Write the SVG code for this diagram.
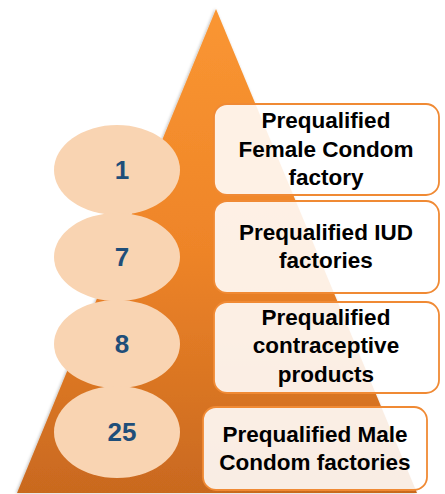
<svg xmlns="http://www.w3.org/2000/svg" width="445" height="494" viewBox="0 0 445 494">
<defs>
<linearGradient id="tri" x1="0" y1="0" x2="0" y2="1">
<stop offset="0" stop-color="#FA9632"/>
<stop offset="0.5" stop-color="#EE8428"/>
<stop offset="1" stop-color="#C9691F"/>
</linearGradient>
<filter id="sh" x="-10%" y="-10%" width="120%" height="120%">
<feGaussianBlur in="SourceAlpha" stdDeviation="1.5"/>
<feOffset dx="-1" dy="0" result="b"/>
<feFlood flood-color="#000" flood-opacity="0.25"/>
<feComposite in2="b" operator="in"/>
<feMerge><feMergeNode/><feMergeNode in="SourceGraphic"/></feMerge>
</filter>
</defs>
<style>
.ell{fill:#F9D4B2}
.num{font-family:"Liberation Sans",Arial,sans-serif;font-weight:bold;font-size:26px;fill:#1F4E79;text-anchor:middle}
.box{fill:#FFFFFF;fill-opacity:0.88;stroke:#F08A34;stroke-width:1.8}
.lbl{font-family:"Liberation Sans",Arial,sans-serif;font-weight:bold;font-size:22.5px;fill:#000;text-anchor:middle}
</style>
<g id="pyramid">
<polygon points="216,9 417,493 17,493" fill="url(#tri)" filter="url(#sh)"/>
</g>
<g id="connectors"></g>
<g id="n1">
<ellipse class="ell" cx="117" cy="170" rx="63" ry="45"/>
<text class="num" x="122" y="179">1</text>
</g>
<g id="n2">
<ellipse class="ell" cx="117" cy="257" rx="63" ry="44"/>
<text class="num" x="122" y="266">7</text>
</g>
<g id="n3">
<ellipse class="ell" cx="117" cy="344" rx="63" ry="44"/>
<text class="num" x="122" y="353">8</text>
</g>
<g id="n4">
<ellipse class="ell" cx="117" cy="432" rx="63" ry="46"/>
<text class="num" x="122" y="441">25</text>
</g>
<g id="b1">
<rect class="box" x="214" y="104" width="225" height="91" rx="13"/>
<text class="lbl" x="326" y="128">Prequalified</text>
<text class="lbl" x="326" y="157">Female Condom</text>
<text class="lbl" x="326" y="185">factory</text>
</g>
<g id="b2">
<rect class="box" x="214" y="201" width="225" height="92" rx="13"/>
<text class="lbl" x="326" y="240">Prequalified IUD</text>
<text class="lbl" x="326" y="268">factories</text>
</g>
<g id="b3">
<rect class="box" x="214" y="302" width="225" height="91" rx="13"/>
<text class="lbl" x="326" y="325">Prequalified</text>
<text class="lbl" x="326" y="353">contraceptive</text>
<text class="lbl" x="326" y="382">products</text>
</g>
<g id="b4">
<rect class="box" x="203" y="407" width="224" height="83" rx="13"/>
<text class="lbl" x="315" y="442">Prequalified Male</text>
<text class="lbl" x="315" y="470">Condom factories</text>
</g>
</svg>
